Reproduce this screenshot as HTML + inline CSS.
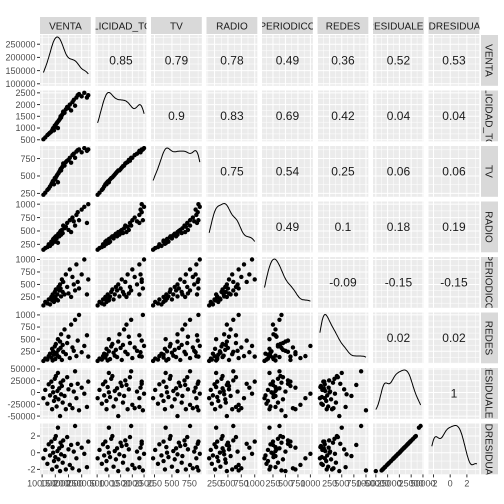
<!DOCTYPE html>
<html><head><meta charset="utf-8">
<style>
html,body{margin:0;padding:0;background:#fff;}
svg{display:block;font-family:"Liberation Sans",Arial,sans-serif;}
</style></head>
<body>
<svg id="chart" width="504" height="504" viewBox="0 0 504 504"></svg>
<script>
const varNames = ["VENTA","PUBLICIDAD_TOTAL","TV","RADIO","PERIODICO","REDES","RESIDUALES","STUDRESIDUALES"];
const venta = [105000,112000,120000,125000,130000,135000,138000,140000,142000,145000,148000,150000,152000,155000,158000,160000,162000,165000,168000,170000,172000,175000,178000,180000,185000,190000,195000,200000,205000,210000,215000,220000,225000,230000,235000,240000,250000,260000,270000,275000];
const publicidad = [520,600,700,750,800,850,900,950,1000,900,1100,1050,1150,1200,1250,1000,1300,1350,1400,1500,1450,1550,1600,1700,1650,1800,1900,1850,2000,1750,2100,2200,1950,2300,2400,2450,2350,2500,2300,2400];
const tv = [230,260,300,320,350,380,400,420,430,380,470,450,480,500,520,410,540,560,580,600,580,620,640,680,650,700,720,730,760,690,800,820,760,850,870,880,840,900,860,880];
const radio = [150,180,200,250,220,300,260,280,350,320,380,300,400,360,420,280,450,400,480,500,430,520,460,600,550,580,650,520,700,480,750,680,600,800,850,700,900,950,650,1000];
const periodico = [80,150,120,200,100,250,180,300,220,150,350,260,400,200,300,180,450,380,500,420,260,600,350,550,300,700,450,320,800,250,650,500,380,900,550,420,700,1000,300,600];
const redes = [50,100,80,150,200,120,300,60,250,180,350,90,400,220,160,500,280,130,450,320,600,70,380,240,700,190,420,550,110,800,330,260,900,150,470,1000,230,360,580,140];
const residuales = [-12000,5500,-23700,17300,-6100,23100,-35500,11500,300,-17900,29100,-9600,34900,-29700,3200,41500,-14400,9000,-50000,20800,-3800,13800,-21400,25600,-7300,-35500,32600,6700,-26200,16100,-33200,2000,45000,-12100,18500,-37800,10300,-2600,-30700,23100];
const studres = [-0.67,0.33,-1.33,1.0,-0.33,1.33,-2.0,0.67,0,-1.0,1.67,-0.53,2.0,-1.67,0.2,3.0,-0.8,0.53,-2.2,1.2,-0.2,0.8,-1.2,1.47,-0.4,-2.0,1.87,0.4,-1.47,0.93,-1.87,0.13,3.2,-0.67,1.07,-2.13,0.6,-0.13,-1.73,1.33];
const corrLabels = [
 [null,"0.85","0.79","0.78","0.49","0.36","0.52","0.53"],
 [null,null,"0.9","0.83","0.69","0.42","0.04","0.04"],
 [null,null,null,"0.75","0.54","0.25","0.06","0.06"],
 [null,null,null,null,"0.49","0.1","0.18","0.19"],
 [null,null,null,null,null,"-0.09","-0.15","-0.15"],
 [null,null,null,null,null,null,"0.02","0.02"],
 [null,null,null,null,null,null,null,"1"]
];
const domains = [[92000,285000],[430,2600],[200,930],[100,1050],[30,1050],[0,1050],[-56000,52000],[-2.6,3.5]];
const ticks = [[100000,150000,200000,250000],[500,1000,1500,2000,2500],[250,500,750],[250,500,750,1000],[250,500,750,1000],[250,500,750,1000],[-50000,-25000,0,25000,50000],[-2,0,2]];
const data = [venta,publicidad,tv,radio,periodico,redes,residuales,studres];

const svg = document.getElementById('chart');
const NS = "http://www.w3.org/2000/svg";
const L=40,T=35,PW=50.9,PH=50.9,GX=4.6,GY=4.6;
function mk(tag, attrs, parent){const e=document.createElementNS(NS,tag);for(const k in attrs)e.setAttribute(k,attrs[k]);(parent||svg).appendChild(e);return e;}
function px(j){return L+j*(PW+GX);}
function py(i){return T+i*(PH+GY);}
function sx(j,v){const d=domains[j];return px(j)+(v-d[0])/(d[1]-d[0])*PW;}
function sy(i,v){const d=domains[i];return py(i)+PH-(v-d[0])/(d[1]-d[0])*PH;}

const defs=mk('defs',{});
for(let i=0;i<8;i++)for(let j=0;j<8;j++){
  const cp=mk('clipPath',{id:'c'+i+'_'+j},defs);
  mk('rect',{x:px(j),y:py(i),width:PW,height:PH},cp);
}
const n=8;
for(let i=0;i<n;i++){
  for(let j=0;j<n;j++){
    const g=mk('g',{'clip-path':'url(#c'+i+'_'+j+')'});
    
    
    mk('rect',{x:px(j),y:py(i),width:PW,height:PH,fill:'#EBEBEB'},g);
    const tx=ticks[j];
    const step=tx.length>1?tx[1]-tx[0]:1;
    for(let k=-1;k<tx.length+1;k++){
      const v=tx[0]+k*step, vm=v+step/2;
      mk('line',{x1:sx(j,vm),x2:sx(j,vm),y1:py(i),y2:py(i)+PH,stroke:'#fff','stroke-width':0.5},g);
      mk('line',{x1:sx(j,v),x2:sx(j,v),y1:py(i),y2:py(i)+PH,stroke:'#fff','stroke-width':1},g);
    }
    const ty=ticks[i];
    const stepy=ty.length>1?ty[1]-ty[0]:1;
    for(let k=-1;k<ty.length+1;k++){
      const v=ty[0]+k*stepy, vm=v+stepy/2;
      mk('line',{y1:sy(i,vm),y2:sy(i,vm),x1:px(j),x2:px(j)+PW,stroke:'#fff','stroke-width':0.5},g);
      mk('line',{y1:sy(i,v),y2:sy(i,v),x1:px(j),x2:px(j)+PW,stroke:'#fff','stroke-width':1},g);
    }
    if(i>j){
      const xs=data[j],ys=data[i];
      for(let k=0;k<xs.length;k++){
        const c=mk('circle',{cx:sx(j,xs[k]),cy:sy(i,ys[k]),r:2.2,fill:'#000'},g);
        
        
      }
    } else if(i===j){
      const xs=data[j];
      const mean=xs.reduce((a,b)=>a+b,0)/xs.length;
      const sd=Math.sqrt(xs.reduce((a,b)=>a+(b-mean)*(b-mean),0)/xs.length);
      const bw=1.06*sd*Math.pow(xs.length,-0.2)*0.6;
      const mn=Math.min(...xs),mx=Math.max(...xs);
      const pts=[];let maxD=0;
      for(let s=0;s<=60;s++){
        const v=mn+(mx-mn)*s/60;let dens=0;
        for(const x of xs)dens+=Math.exp(-0.5*((v-x)/bw)**2);
        pts.push([v,dens]);if(dens>maxD)maxD=dens;
      }
      const p=pts.map(q=>(sx(j,q[0])).toFixed(1)+','+(py(i)+PH-2-q[1]/maxD*(PH-4)).toFixed(1)).join(' ');
      const pl=mk('polyline',{points:p,fill:'none',stroke:'#000','stroke-width':1},g);
      
      
    } else {
      const t=mk('text',{x:px(j)+PW/2,y:py(i)+PH/2+4,'text-anchor':'middle','font-size':12,fill:'#1a1a1a'},g);
      t.textContent=corrLabels[i][j];
      
      
    }
  }
}
for(let j=0;j<n;j++){
  const cp=mk('clipPath',{id:'st'+j},defs);
  mk('rect',{x:px(j),y:17,width:PW,height:17},cp);
  const g=mk('g',{'clip-path':'url(#st'+j+')'});
  
  
  mk('rect',{x:px(j),y:17,width:PW,height:17,fill:'#D9D9D9'},g);
  const t=mk('text',{x:px(j)+PW/2,y:29.5,'text-anchor':'middle','font-size':10,fill:'#1a1a1a'},g);
  t.textContent=varNames[j];
}
for(let i=0;i<n;i++){
  const cp=mk('clipPath',{id:'sr'+i},defs);
  mk('rect',{x:481,y:py(i),width:17,height:PH},cp);
  const g=mk('g',{'clip-path':'url(#sr'+i+')'});
  
  
  mk('rect',{x:481,y:py(i),width:17,height:PH,fill:'#D9D9D9'},g);
  const cy=py(i)+PH/2;
  const t=mk('text',{x:0,y:0,'text-anchor':'middle','font-size':10,fill:'#1a1a1a',transform:'translate(485.5,'+cy+') rotate(90)'},g);
  t.textContent=varNames[i];
}
for(let i=0;i<n;i++){
  const g=mk('g',{});
  
  
  for(const v of ticks[i]){
    const y=sy(i,v);
    if(y<py(i)-1||y>py(i)+PH+1)continue;
    mk('line',{x1:37,x2:40,y1:y,y2:y,stroke:'#333','stroke-width':1},g);
    const t=mk('text',{x:35.5,y:y+3.2,'text-anchor':'end','font-size':9,fill:'#4d4d4d'},g);
    t.textContent=v;
  }
}
const by=py(7)+PH;
for(let j=0;j<n;j++){
  const g=mk('g',{});
  
  
  for(const v of ticks[j]){
    const x=sx(j,v);
    if(x<px(j)-1||x>px(j)+PW+1)continue;
    mk('line',{x1:x,x2:x,y1:by,y2:by+3,stroke:'#333','stroke-width':1},g);
    const t=mk('text',{x:x,y:by+12,'text-anchor':'middle','font-size':9,fill:'#4d4d4d'},g);
    t.textContent=v;
  }
}
</script>
</body></html>
